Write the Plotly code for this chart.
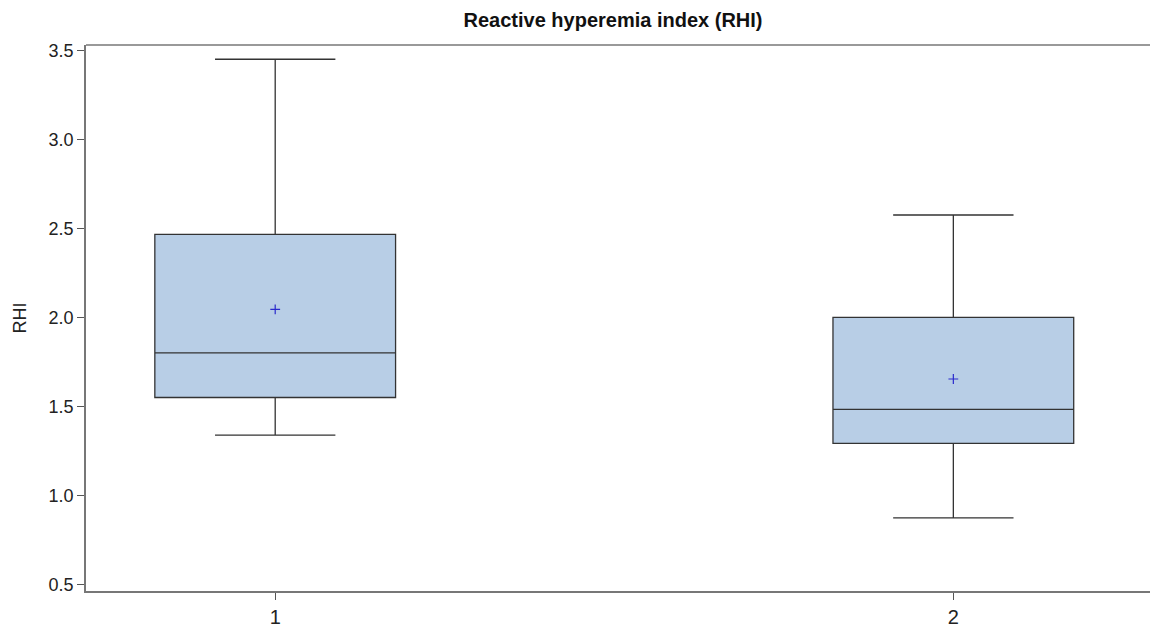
import plotly.graph_objects as go

groups = [1, 2]
q1 = [1.550, 1.292]
median = [1.801, 1.483]
q3 = [2.467, 2.000]
lower = [1.339, 0.873]
upper = [3.452, 2.576]
means = [2.046, 1.654]
y_ticks = [0.5, 1.0, 1.5, 2.0, 2.5, 3.0, 3.5]

fig = go.Figure()
for i, g in enumerate(groups):
    fig.add_trace(go.Box(
        x=[g], q1=[q1[i]], median=[median[i]], q3=[q3[i]],
        lowerfence=[lower[i]], upperfence=[upper[i]],
        width=0.355, whiskerwidth=0.5,
        fillcolor="#b8cee6", line=dict(color="#333333", width=1.3),
        boxpoints=False, showlegend=False, hoverinfo="skip",
    ))
fig.add_trace(go.Scatter(
    x=groups, y=means, mode="markers",
    marker=dict(symbol="cross-thin", size=7, line=dict(color="#2a2acc", width=1.2)),
    showlegend=False, hoverinfo="skip",
))

font = "Liberation Sans, Arial, sans-serif"
fig.update_layout(
    width=1152, height=633,
    margin=dict(l=86, r=2, t=45, b=42),
    paper_bgcolor="white", plot_bgcolor="white",
    font=dict(family=font, size=18, color="#222222"),
    title=dict(text="<b>Reactive hyperemia index (RHI)</b>", x=613/1152, xanchor="center",
               y=1 - 20/633, yanchor="middle", font=dict(size=20, color="#111111")),
    xaxis=dict(range=[0.721, 2.29], tickmode="array", tickvals=groups,
               ticktext=[str(g) for g in groups], showgrid=False, zeroline=False,
               showline=True, linecolor="#777777", linewidth=1.5, mirror=False,
               ticks="outside", ticklen=7, tickcolor="#555555", tickfont=dict(size=20)),
    yaxis=dict(range=[0.462, 3.532], tickmode="array", tickvals=y_ticks,
               ticktext=[f"{v:.1f}" for v in y_ticks], showgrid=False, zeroline=False,
               showline=True, linecolor="#777777", linewidth=1.5,
               ticks="outside", ticklen=7, tickcolor="#555555", tickfont=dict(size=18),
               title=dict(text="RHI", font=dict(size=18), standoff=17)),
)
fig.add_shape(type="line", xref="paper", yref="paper", x0=0, x1=1, y0=1, y1=1,
              line=dict(color="#777777", width=1.5))

fig.write_html("out.html", config={"displayModeBar": False},
               post_script="document.body.style.margin='0';document.body.style.overflow='hidden';")
